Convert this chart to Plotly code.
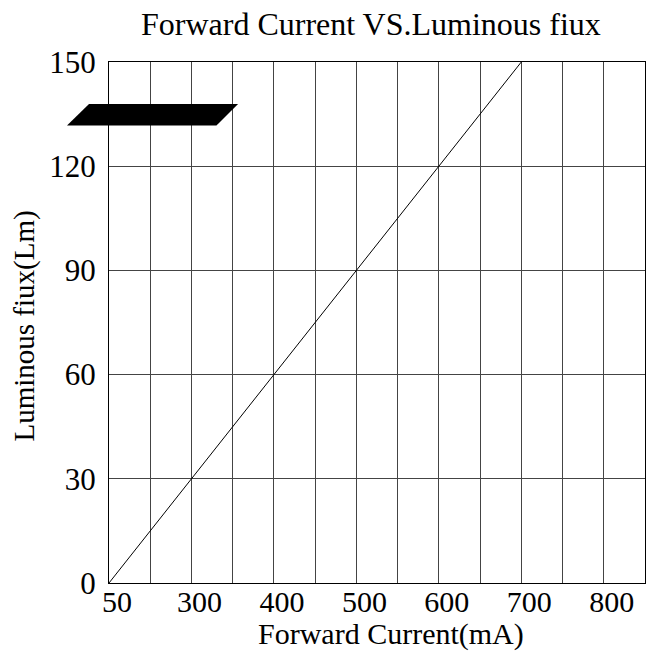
import plotly.graph_objects as go

# Data
current_ma = [200, 300, 400, 500, 600, 700]
flux_lm = [0, 30, 60, 90, 120, 150]

x_tickvals = [200, 300, 400, 500, 600, 700, 800]
x_ticktext = ["50", "300", "400", "500", "600", "700", "800"]
y_tickvals = [0, 30, 60, 90, 120, 150]
y_ticktext = ["0", "30", "60", "90", "120", "150"]

FONT = "Liberation Serif"

fig = go.Figure()
fig.add_trace(go.Scatter(
    x=current_ma, y=flux_lm, mode="lines",
    line=dict(color="black", width=1),
    showlegend=False, hoverinfo="skip",
))

fig.update_layout(
    width=653, height=651,
    margin=dict(l=109, r=8, t=62, b=68, autoexpand=False),
    paper_bgcolor="white", plot_bgcolor="white",
    font=dict(family=FONT, color="black"),
    showlegend=False,
)

fig.update_xaxes(
    range=[200, 850], automargin=False,
    tickmode="array", tickvals=x_tickvals, ticktext=x_ticktext,
    tickfont=dict(family=FONT, size=30, color="black"),
    ticks="", ticklabelstandoff=-8, ticklabelshift=8,
    showgrid=True, gridcolor="#444", gridwidth=1,
    minor=dict(dtick=50, tick0=200, showgrid=True, gridcolor="#444", gridwidth=1),
    showline=True, linecolor="black", linewidth=1, mirror=True,
    zeroline=False,
)
fig.update_yaxes(
    range=[0, 150], automargin=False,
    tickmode="array", tickvals=y_tickvals, ticktext=y_ticktext,
    tickfont=dict(family=FONT, size=31, color="black"),
    ticks="", ticklabelstandoff=6,
    showgrid=True, gridcolor="#444", gridwidth=1,
    showline=True, linecolor="black", linewidth=1, mirror=True,
    zeroline=False,
)

# Titles
fig.add_annotation(text="Forward Current VS.Luminous fiux", xref="paper", yref="paper",
                   x=0.4885, y=1.0726, xanchor="center", yanchor="middle",
                   showarrow=False, font=dict(family=FONT, size=32, color="black"))
fig.add_annotation(text="Forward Current(mA)", xref="paper", yref="paper",
                   x=0.5259, y=-0.0975, xanchor="center", yanchor="middle",
                   showarrow=False, font=dict(family=FONT, size=30, color="black"))
fig.add_annotation(text="Luminous fiux(Lm)", xref="paper", yref="paper",
                   x=-0.158, y=0.4929, xanchor="center", yanchor="middle",
                   textangle=-90, showarrow=False,
                   font=dict(family=FONT, size=29, color="black"))

# Black parallelogram mark in the upper-left
fig.add_shape(type="path", xref="paper", yref="paper",
              path="M -0.0373 0.9194 L 0.2408 0.9194 L 0.2005 0.8783 L -0.0784 0.8783 Z",
              fillcolor="black", line=dict(color="black", width=0), layer="above")

fig.write_html("out.html", config={"displayModeBar": False},
               post_script="document.body.style.margin='0';document.body.style.padding='0';")
